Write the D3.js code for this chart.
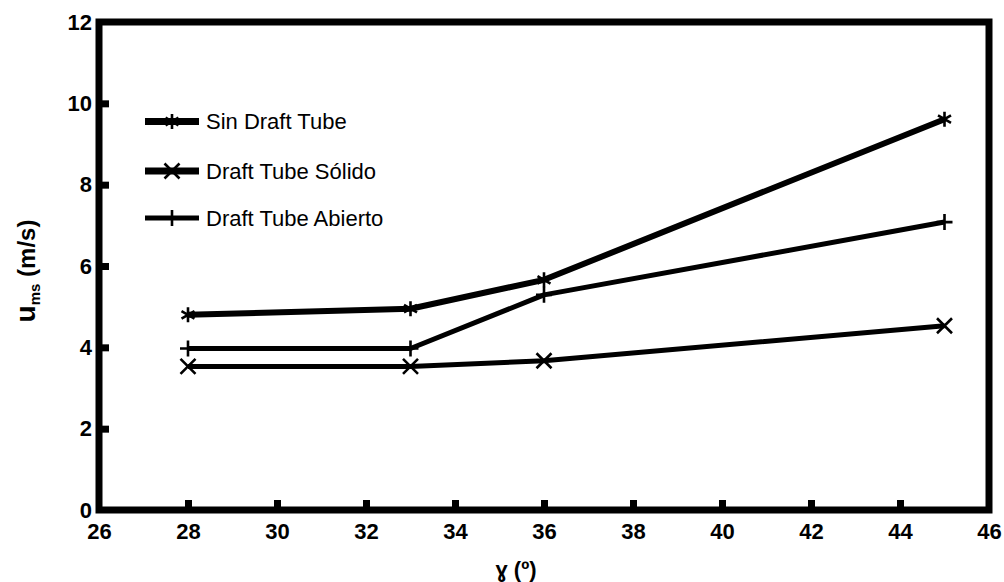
<!DOCTYPE html>
<html><head><meta charset="utf-8">
<script src="https://cdn.jsdelivr.net/npm/d3@7"></script>
<style>
html,body{margin:0;padding:0;background:#fff;}
svg{display:block;font-family:"Liberation Sans",Arial,sans-serif;}
</style></head>
<body>
<svg id="c" width="1004" height="582"></svg>
<script>
const xValues = [28, 33, 36, 45];
const sinDraftTube = [4.8, 4.95, 5.66, 9.61];
const draftTubeSolido = [3.53, 3.53, 3.67, 4.53];
const draftTubeAbierto = [3.97, 3.97, 5.29, 7.08];
const seriesNames = ["Sin Draft Tube", "Draft Tube Sólido", "Draft Tube Abierto"];
const xTicks = [26, 28, 30, 32, 34, 36, 38, 40, 42, 44, 46];
const yTicks = [0, 2, 4, 6, 8, 10, 12];

const svg = d3.select("#c");
const x = d3.scaleLinear().domain([26, 46]).range([99, 989]);
const y = d3.scaleLinear().domain([0, 12]).range([510, 22]);

// frame
svg.append("rect").attr("x", x(26)).attr("y", y(12))
  .attr("width", x(46) - x(26)).attr("height", y(0) - y(12))
  .attr("fill", "none").attr("stroke", "#000").attr("stroke-width", 7);

// axes
const gx = svg.append("g").attr("transform", `translate(0,${y(0)})`)
  .call(d3.axisBottom(x).tickValues(xTicks).tickFormat(d3.format("d"))
    .tickSizeInner(-10).tickSizeOuter(0).tickPadding(13));
const gy = svg.append("g").attr("transform", `translate(${x(26)},0)`)
  .call(d3.axisLeft(y).tickValues(yTicks).tickFormat(d3.format("d"))
    .tickSizeInner(-10).tickSizeOuter(0).tickPadding(7));
[gx, gy].forEach(g => {
  g.select(".domain").remove();
  g.selectAll(".tick line").attr("stroke", "#000").attr("stroke-width", 7);
  g.selectAll(".tick text").attr("fill", "#000")
    .style("font-size", "22px").style("font-weight", "bold")
    .style("font-family", "'Liberation Sans', Arial, sans-serif");
});
gy.selectAll(".tick line").filter(d => d === 0 || d === 12).remove();
gx.selectAll(".tick line").filter(d => d === 26 || d === 46).remove();

// markers
function marker(g, type, cx, cy) {
  const s = 7.5;
  let p = "";
  if (type === "star") {
    for (const a of [90, 30, 150]) {
      const r = a * Math.PI / 180, dx = Math.cos(r) * s, dy = Math.sin(r) * s;
      p += `M${cx - dx},${cy - dy}L${cx + dx},${cy + dy}`;
    }
  } else if (type === "x") {
    const k = s;
    p = `M${cx - k},${cy - k}L${cx + k},${cy + k}M${cx - k},${cy + k}L${cx + k},${cy - k}`;
  } else {
    const k = 8;
    p = `M${cx - k},${cy}L${cx + k},${cy}M${cx},${cy - k}L${cx},${cy + k}`;
  }
  g.append("path").attr("d", p).attr("stroke", "#000").attr("stroke-width", 2.6).attr("fill", "none");
}

const series = [
  {name: seriesNames[0], vals: sinDraftTube, m: "star", w: 6},
  {name: seriesNames[1], vals: draftTubeSolido, m: "x", w: 5},
  {name: seriesNames[2], vals: draftTubeAbierto, m: "plus", w: 5}
];
const line = d3.line().x(d => x(d[0])).y(d => y(d[1]));
series.forEach(s => {
  const pts = xValues.map((xv, i) => [xv, s.vals[i]]);
  const g = svg.append("g");
  g.append("path").attr("d", line(pts)).attr("fill", "none")
    .attr("stroke", "#000").attr("stroke-width", s.w).attr("stroke-linejoin", "round");
  pts.forEach(p => marker(g, s.m, x(p[0]), y(p[1])));
});

// legend
const legW = [7, 7, 5];
const legY = [121.5, 171, 218];
series.forEach((s, i) => {
  const g = svg.append("g");
  g.append("line").attr("x1", 145).attr("x2", 199).attr("y1", legY[i]).attr("y2", legY[i])
    .attr("stroke", "#000").attr("stroke-width", legW[i]);
  marker(g, s.m, 172, legY[i]);
  g.append("text").attr("x", 206).attr("y", legY[i] + 7.5).text(s.name)
    .style("font-size", "22px").attr("fill", "#000");
});

// axis titles
svg.append("text").attr("x", 516).attr("y", 577).attr("text-anchor", "middle")
  .style("font-size", "22px").style("font-weight", "bold").text("ɣ (º)");

const yt = svg.append("text").attr("transform", "translate(35,271) rotate(-90)")
  .attr("text-anchor", "middle").style("font-weight", "bold");
yt.append("tspan").style("font-size", "28px").text("u");
yt.append("tspan").style("font-size", "15px").attr("dy", 5).text("ms");
yt.append("tspan").style("font-size", "24px").attr("dy", -5).text(" (m/s)");
</script>
</body></html>
